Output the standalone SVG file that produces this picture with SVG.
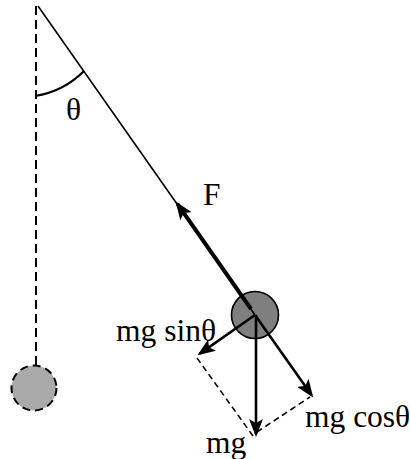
<svg xmlns="http://www.w3.org/2000/svg" width="410" height="459" viewBox="0 0 410 459">
<style>
.lbl{font-family:"Liberation Serif","Times New Roman",serif;font-size:31.5px;fill:#000}
.thin{stroke:#000;stroke-width:1.6;fill:none}
.arc{stroke:#000;stroke-width:2.2;fill:none}
.dash{stroke:#000;stroke-width:2;fill:none;stroke-dasharray:9 5}
.dash2{stroke:#000;stroke-width:1.6;fill:none;stroke-dasharray:6 4}
.force{stroke:#000;stroke-width:2.6;fill:none;marker-end:url(#ah)}
.fthick{stroke:#000;stroke-width:4;fill:none;marker-end:url(#ah)}
</style>
<defs>
<marker id="ah" viewBox="0 0 18 14" refX="15" refY="7" markerWidth="18" markerHeight="14" markerUnits="userSpaceOnUse" orient="auto">
<path d="M0,0 L18,7 L0,14 L4,7 z" fill="#000"/>
</marker>
</defs>
<g id="vertical-ref">
<line class="dash" x1="36" y1="6" x2="36" y2="366"/>
</g>
<g id="ghost-bob">
<circle cx="34" cy="388" r="22.5" fill="#aaaaaa" stroke="#000" stroke-width="2" stroke-dasharray="8 5"/>
</g>
<g id="angle">
<path class="arc" d="M35,96 A88,88 0 0 0 84,71"/>
<text class="lbl" x="66" y="120">θ</text>
</g>
<g id="bob">
<circle cx="255" cy="315" r="23.5" fill="#7f7f7f" stroke="#000" stroke-width="1.6"/>
</g>
<g id="connectors">
<line class="thin" x1="38" y1="6" x2="255" y2="315"/>
<line class="fthick" x1="251" y1="309" x2="177.4" y2="203.9"/>
<line class="force" x1="255" y1="315" x2="311.5" y2="395.1"/>
<line class="force" x1="255" y1="315" x2="199.9" y2="353.6"/>
<line class="force" x1="256" y1="315" x2="256" y2="434"/>
<line class="dash2" x1="197" y1="358" x2="253" y2="436"/>
<line class="dash2" x1="257" y1="432" x2="310" y2="397"/>
</g>
<g id="labels">
<text class="lbl" x="203" y="205">F</text>
<text class="lbl" x="116" y="341">mg sinθ</text>
<text class="lbl" x="305" y="427">mg cosθ</text>
<text class="lbl" x="206" y="453">mg</text>
</g>
</svg>
